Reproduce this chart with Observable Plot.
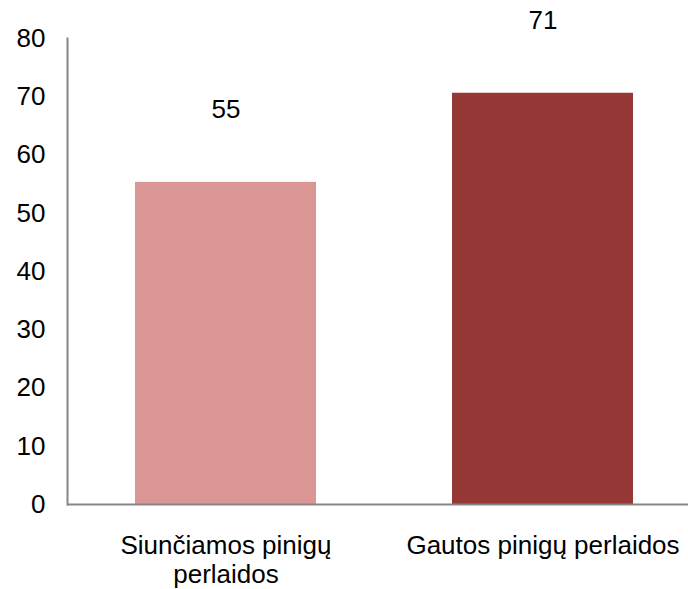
<!DOCTYPE html>
<html>
<head>
<meta charset="utf-8">
<script src="https://cdn.jsdelivr.net/npm/d3@7"></script>
<script src="https://cdn.jsdelivr.net/npm/@observablehq/plot@0.6"></script>
<style>
  html, body { margin: 0; padding: 0; background: #fff; }
  #chart { width: 688px; height: 589px; overflow: hidden; }
</style>
</head>
<body>
<div id="chart"></div>
<script>
const categories = ["Siunčiamos pinigų perlaidos", "Gautos pinigų perlaidos"];
const tickLabels = ["Siunčiamos pinigų\nperlaidos", "Gautos pinigų perlaidos"];
const values = [55.3, 70.6];
const valueLabels = ["55", "71"];
const colors = ["#D99694", "#953735"];
const yTicks = [0, 10, 20, 30, 40, 50, 60, 70, 80];

const data = categories.map((c, i) => ({cat: c, value: values[i], label: valueLabels[i], color: colors[i]}));

const chart = Plot.plot({
  width: 688,
  height: 589,
  marginTop: 38,
  marginBottom: 85,
  marginLeft: 67,
  marginRight: 0,
  style: {fontFamily: "'Liberation Sans', Arial, sans-serif", fontSize: "26px", color: "#000", background: "#fff"},
  x: {domain: categories, range: [67, 701], paddingInner: 0.43, paddingOuter: 0.215, label: null},
  y: {domain: [0, 80], label: null},
  marks: [
    Plot.barY(data, {x: "cat", y: "value", fill: "color"}),
    Plot.text(data, {x: "cat", y: "value", text: "label", dy: -73, fontSize: 26, fill: "#000"}),
    Plot.axisY({ticks: yTicks, tickSize: 0, tickPadding: 22, fontSize: 26, fill: "#000", label: null}),
    Plot.axisX({tickSize: 0, tickPadding: 30, fontSize: 26, fill: "#000", label: null, lineHeight: 1.08,
      tickFormat: d => tickLabels[categories.indexOf(d)]}),
    Plot.ruleY([0], {stroke: "#868686", strokeWidth: 2}),
    Plot.frame({anchor: "left", stroke: "#868686", strokeWidth: 2})
  ]
});
document.getElementById("chart").appendChild(chart);
</script>
</body>
</html>
